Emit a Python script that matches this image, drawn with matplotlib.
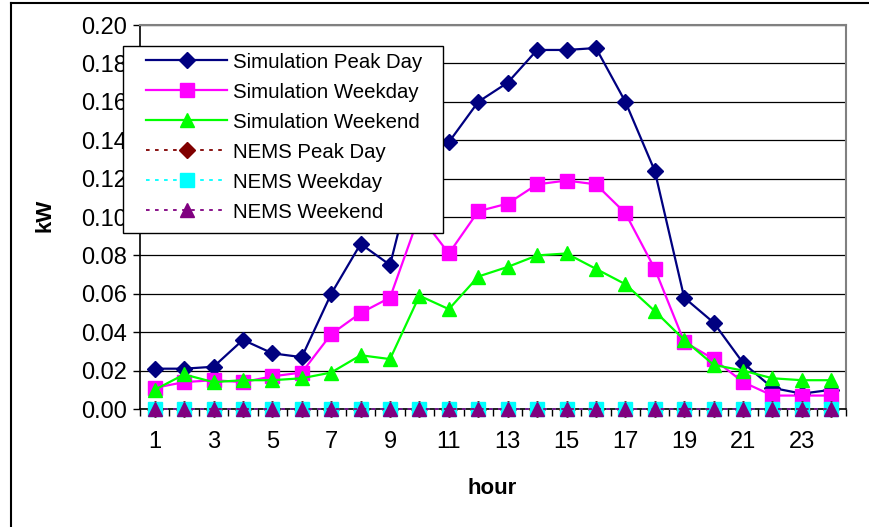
import matplotlib
matplotlib.use("Agg")
import matplotlib.pyplot as plt
from matplotlib.lines import Line2D
from matplotlib.patches import Rectangle
import numpy as np

plt.rcParams['font.family'] = ['Liberation Sans', 'DejaVu Sans']

hours = list(range(1, 25))
sim_peak = [0.021, 0.021, 0.022, 0.036, 0.029, 0.027, 0.060, 0.086, 0.075, 0.136,
            0.139, 0.160, 0.170, 0.187, 0.187, 0.188, 0.160, 0.124, 0.058, 0.045,
            0.024, 0.011, 0.008, 0.010]
sim_weekday = [0.011, 0.014, 0.015, 0.014, 0.017, 0.019, 0.039, 0.050, 0.058, 0.101,
               0.081, 0.103, 0.107, 0.117, 0.119, 0.117, 0.102, 0.073, 0.035, 0.026,
               0.014, 0.007, 0.007, 0.007]
sim_weekend = [0.010, 0.018, 0.014, 0.015, 0.015, 0.016, 0.019, 0.028, 0.026, 0.059,
               0.052, 0.069, 0.074, 0.080, 0.081, 0.073, 0.065, 0.051, 0.036, 0.023,
               0.020, 0.016, 0.015, 0.015]
nems_peak = [0.0] * 24
nems_weekday = [0.0] * 24
nems_weekend = [0.0] * 24
xtick_labels = [str(h) for h in range(1, 24, 2)]
yticks = [0.00, 0.02, 0.04, 0.06, 0.08, 0.10, 0.12, 0.14, 0.16, 0.18, 0.20]

W, H = 869, 527
fig = plt.figure(figsize=(W / 100, H / 100), dpi=100)

def fx(px):
    return px / W

def fy(py):
    return 1 - py / H

# chart area border (top & left visible)
fig.add_artist(Line2D([fx(11), fx(11)], [0, fy(3)], transform=fig.transFigure, color='black', lw=1.5))
fig.add_artist(Line2D([fx(11), 1], [fy(3), fy(3)], transform=fig.transFigure, color='black', lw=1.5))

ax = fig.add_axes([fx(140), fy(409), (846 - 140) / W, (409 - 25) / H])

tfs = 17
lfs = 14.7
ax.set_xlim(0.5, 24.5)
ax.set_ylim(0, 0.2)
ax.set_yticks(yticks)
ax.set_yticklabels([f"{v:.2f}" for v in yticks], fontsize=tfs)
ax.yaxis.grid(True, color='black', lw=0.9)
ax.set_axisbelow(True)

ax.set_xticks(list(range(1, 24, 2)))
ax.set_xticklabels(xtick_labels, fontsize=tfs)
ax.set_xticks(np.arange(0.5, 25, 1), minor=True)
ax.tick_params(axis='x', which='major', length=0, pad=16)
ax.tick_params(axis='x', which='minor', length=5, width=1, direction='out', color='black')
ax.tick_params(axis='y', which='major', length=5, width=1, direction='out', pad=4, color='black')

for s in ['top', 'right']:
    ax.spines[s].set_color('#808080')
    ax.spines[s].set_linewidth(1.5)
for s in ['left', 'bottom']:
    ax.spines[s].set_color('black')
    ax.spines[s].set_linewidth(1.2)

fig.text(fx(45), fy(215), 'kW', fontsize=16, fontweight='bold', rotation=90, ha='center', va='center')
fig.text(fx(492), fy(489), 'hour', fontsize=16, fontweight='bold', ha='center', va='center')

lw = 1.6
ax.plot(hours, sim_peak, color='#000080', lw=lw, marker='D', ms=8.5, label='Simulation Peak Day', clip_on=False, zorder=3)
ax.plot(hours, sim_weekday, color='#FF00FF', lw=lw, marker='s', ms=9.5, label='Simulation Weekday', clip_on=False, zorder=3)
ax.plot(hours, sim_weekend, color='#00FF00', lw=lw, marker='^', ms=10.5, label='Simulation Weekend', clip_on=False, zorder=3)
dot = (0, (2, 3))
ax.plot(hours, nems_peak, color='#800000', lw=1.3, ls=dot, marker='D', ms=8.5, label='NEMS Peak Day', clip_on=False, zorder=4)
ax.plot(hours, nems_weekday, color='#00FFFF', lw=1.3, ls=dot, marker='s', ms=9.5, label='NEMS Weekday', clip_on=False, zorder=4)
ax.plot(hours, nems_weekend, color='#800080', lw=1.3, ls=dot, marker='^', ms=10.5, label='NEMS Weekend', clip_on=False, zorder=4)

# legend frame (drawn above axes)
frame = Rectangle((fx(123), fy(233)), (443 - 123) / W, (233 - 46) / H, transform=fig.transFigure,
                  facecolor='white', edgecolor='black', lw=1.0, zorder=5)
fig.add_artist(frame)

handles, labels = ax.get_legend_handles_labels()
leg = fig.legend(handles, labels, loc='upper left', bbox_to_anchor=(fx(146), fy(52.5)), fontsize=lfs,
                 frameon=False, handlelength=3.97, handletextpad=0.3, labelspacing=0.54,
                 borderpad=0, borderaxespad=0)
leg.set_zorder(6)

fig.savefig('out.png', dpi=100)
